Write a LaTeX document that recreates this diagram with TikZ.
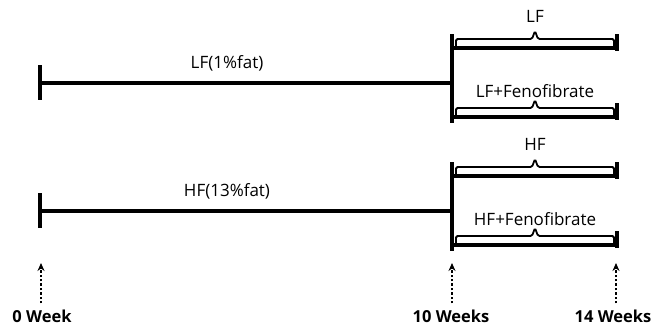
\documentclass[tikz,border=0pt]{standalone}
\usepackage{fontspec}
\setmainfont{Open Sans}
\usetikzlibrary{arrows.meta, positioning, calc}
\tikzset{
  diet/.style={line width=3.2pt},
  endtick/.style={line width=3.2pt},
  brc/.style={line width=1.8pt, rounded corners=1.5pt},
  grp/.style={inner sep=0pt, font=\fontsize{17}{20}\selectfont},
  wk/.style={inner sep=0pt, font=\bfseries\fontsize{16.5}{19}\selectfont},
  tarr/.style={dotted, line width=2.4pt, -{Stealth[length=8pt, width=7pt]}, shorten <=6pt},
}

\begin{document}
\begin{tikzpicture}[x=1pt, y=-1pt]
  \useasboundingbox (0,0) rectangle (651,327);

  % two diet arms, LF on top and HF below
  \foreach \arm/\yo/\base/\sub in {lf/0/LF(1\%fat)/LF, hf/128/HF(13\%fat)/HF}{
    \coordinate (\arm-s) at (40,83+\yo);
    \coordinate (\arm-m) at (452,83+\yo);
    \draw[endtick] (40,65+\yo) -- (40,100+\yo);
    \draw[diet] (\arm-s) -- (\arm-m);
    \draw[endtick] (452,34+\yo) -- (452,123+\yo);
    \node[grp] (\arm-lab) at (227,63+\yo) {\base};

    % branches 10--14 weeks
    \coordinate (\arm-a) at (452,48+\yo);
    \coordinate (\arm-ae) at (617,48+\yo);
    \coordinate (\arm-b) at (452,117+\yo);
    \coordinate (\arm-be) at (617,117+\yo);
    \draw[diet] (\arm-a) -- (\arm-ae);
    \draw[diet] (\arm-b) -- (\arm-be);
    \draw[endtick] (617,34+\yo) -- (617,51+\yo);
    \draw[endtick] (617,103+\yo) -- (617,120+\yo);

    % braces over the branches
    \foreach \yy in {46,115}{
      \draw[brc] (456,\yy+\yo) -- (456,\yy-7+\yo) -- (532,\yy-7+\yo)
        -- (535,\yy-15+\yo) -- (538,\yy-7+\yo) -- (614,\yy-7+\yo) -- (614,\yy+\yo);
    }
    \node[grp] (\arm-top) at (535,16+\yo) {\sub};
    \node[grp] (\arm-fen) at (535,91+\yo) {\sub+Fenofibrate};
  }

  % time points
  \node[wk] (w0) at (42,316) {0 Week};
  \node[wk] (w10) at (451,316) {10 Weeks};
  \node[wk] (w14) at (613,316) {14 Weeks};
  \coordinate (t0) at (41,263);
  \coordinate (t10) at (452,263);
  \coordinate (t14) at (616,263);
  \draw[tarr] (w0.north -| t0) -- (t0);
  \draw[tarr] (w10.north -| t10) -- (t10);
  \draw[tarr] (w14.north -| t14) -- (t14);
\end{tikzpicture}
\end{document}
